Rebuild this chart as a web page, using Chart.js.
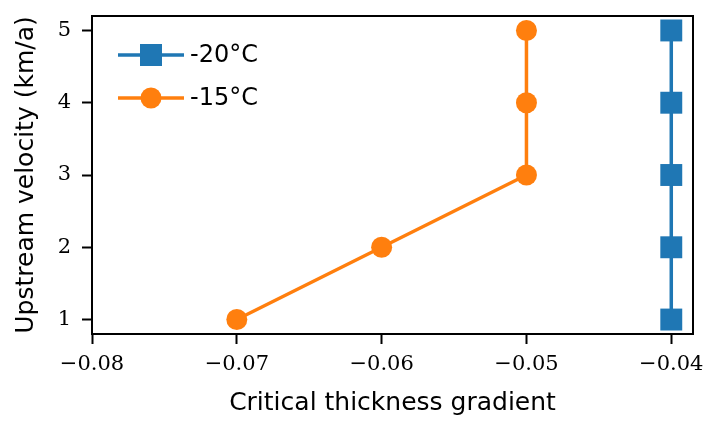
<!DOCTYPE html>
<html>
<head>
<meta charset="utf-8">
<script src="https://cdn.jsdelivr.net/npm/chart.js@4"></script>
<style>
  html, body { margin: 0; padding: 0; background: #fff; }
</style>
</head>
<body>
<canvas id="chart" width="709" height="422"></canvas>
<script>
// data
const velocities = [1, 2, 3, 4, 5];
const gradMinus20 = [-0.04, -0.04, -0.04, -0.04, -0.04];
const gradMinus15 = [-0.07, -0.06, -0.05, -0.05, -0.05];
const seriesLabels = ['-20°C', '-15°C'];
const xTicks = [-0.08, -0.07, -0.06, -0.05, -0.04];
const yTicks = [1, 2, 3, 4, 5];

const blue = '#1f77b4';
const orange = '#ff7f0e';
const sansFont = '"DejaVu Sans", sans-serif';
const serifFont = '"DejaVu Serif", serif';

function points(xs) {
  return xs.map((x, i) => ({ x: x, y: velocities[i] }));
}

// full box around the plot + legend with line and marker, matplotlib style
const frameAndLegend = {
  id: 'frameAndLegend',
  afterDraw(chart) {
    const { ctx, chartArea: a } = chart;
    ctx.save();
    ctx.strokeStyle = '#000';
    ctx.lineWidth = 2;
    ctx.strokeRect(a.left, a.top, a.right - a.left, a.bottom - a.top);

    chart.data.datasets.forEach((ds, i) => {
      const y = a.top + 39 + i * 43;
      const x0 = a.left + 26;
      const xm = x0 + 33;
      ctx.strokeStyle = ds.borderColor;
      ctx.lineWidth = 3.5;
      ctx.beginPath();
      ctx.moveTo(x0, y);
      ctx.lineTo(x0 + 66, y);
      ctx.stroke();
      ctx.fillStyle = ds.backgroundColor;
      if (ds.pointStyle === 'rect') {
        ctx.fillRect(xm - 11, y - 11, 22, 22);
      } else {
        ctx.beginPath();
        ctx.arc(xm, y, 10.5, 0, Math.PI * 2);
        ctx.fill();
      }
      ctx.fillStyle = '#000';
      ctx.font = '24px ' + sansFont;
      ctx.textBaseline = 'middle';
      ctx.fillText(ds.label, x0 + 72, y + 1);
    });
    ctx.restore();
  }
};

const ctx = document.getElementById('chart').getContext('2d');
new Chart(ctx, {
  type: 'line',
  data: {
    datasets: [
      {
        label: seriesLabels[0],
        data: points(gradMinus20),
        borderColor: blue,
        backgroundColor: blue,
        borderWidth: 3.5,
        pointStyle: 'rect',
        pointRadius: 15.5,
        pointBorderWidth: 0,
        pointHoverRadius: 15.5,
        clip: false
      },
      {
        label: seriesLabels[1],
        data: points(gradMinus15),
        borderColor: orange,
        backgroundColor: orange,
        borderWidth: 3.5,
        pointStyle: 'circle',
        pointRadius: 10.5,
        pointBorderWidth: 0,
        pointHoverRadius: 10.5,
        clip: false
      }
    ]
  },
  options: {
    responsive: false,
    animation: false,
    layout: { padding: { top: 16, right: 16, left: 0, bottom: 0 } },
    plugins: {
      legend: { display: false },
      tooltip: { enabled: false }
    },
    scales: {
      x: {
        type: 'linear',
        min: -0.08,
        max: -0.0385,
        afterBuildTicks: (scale) => { scale.ticks = xTicks.map(v => ({ value: v })); },
        afterFit: (scale) => {
          scale.height = 88;
          scale.paddingLeft = 0;
          scale.paddingRight = 0;
        },
        grid: { display: true, drawOnChartArea: false, tickLength: 10, tickWidth: 2, tickColor: '#000' },
        border: { display: false },
        ticks: {
          color: '#000',
          padding: 8,
          maxRotation: 0,
          font: { family: serifFont, size: 21 },
          callback: (v) => v.toFixed(2).replace('-', '\u2212')
        },
        title: {
          display: true,
          text: 'Critical thickness gradient',
          color: '#000',
          font: { family: sansFont, size: 25 },
          padding: { top: 0, bottom: 4 }
        }
      },
      y: {
        type: 'linear',
        min: 0.8,
        max: 5.2,
        afterBuildTicks: (scale) => { scale.ticks = yTicks.map(v => ({ value: v })); },
        afterFit: (scale) => {
          scale.width = 92;
          scale.paddingTop = 0;
          scale.paddingBottom = 0;
        },
        grid: { display: true, drawOnChartArea: false, tickLength: 10, tickWidth: 2, tickColor: '#000' },
        border: { display: false },
        ticks: {
          color: '#000',
          padding: 11,
          font: { family: serifFont, size: 21 }
        },
        title: {
          display: true,
          text: 'Upstream velocity (km/a)',
          color: '#000',
          font: { family: sansFont, size: 25 },
          padding: { top: 11, bottom: 0 }
        }
      }
    }
  },
  plugins: [frameAndLegend]
});
</script>
</body>
</html>
